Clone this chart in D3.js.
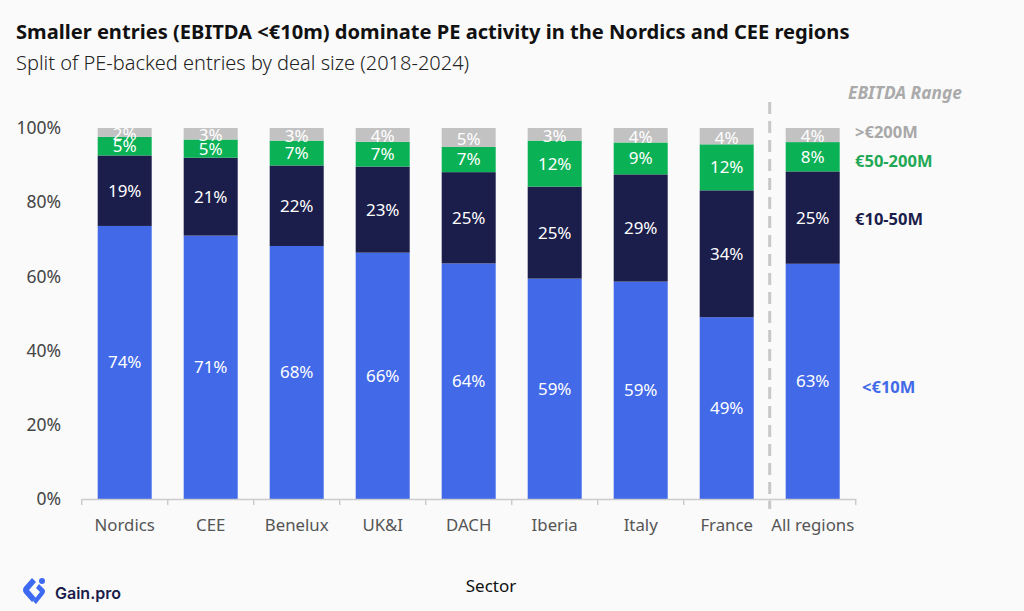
<!DOCTYPE html>
<html><head><meta charset="utf-8">
<script src="https://cdn.jsdelivr.net/npm/d3@7"></script>
<style>body{margin:0;background:#fafafa;}svg{display:block;}</style>
</head><body>
<script>
const categories = ["Nordics","CEE","Benelux","UK&I","DACH","Iberia","Italy","France","All regions"];
const seriesNames = ["<€10M","€10-50M","€50-200M",">€200M"];
const below10 = [73.6,71.0,68.2,66.4,63.5,59.4,58.6,49.0,63.4];
const from10to50 = [19.0,21.0,21.7,23.2,24.6,24.8,28.9,34.2,24.9];
const from50to200 = [5.0,4.9,6.7,6.7,6.8,12.4,8.6,12.4,7.9];
const above200 = [2.4,3.1,3.4,3.7,5.1,3.4,3.9,4.4,3.8];
const yTicks = [0,20,40,60,80,100];
const colors = ["#4169E8","#1B1D4A","#0BB155","#C2C2C2"];
const legendColors = ["#4169E8","#1B1D4A","#1FA855","#A8A8A8"];

const W=1024,H=611;
const svg=d3.select("body").append("svg").attr("width",W).attr("height",H).style("background","#fafafa");
const font="'Source Sans Pro','Noto Sans',sans-serif";
const x=d3.scaleBand().domain(categories).range([81.7,855.7]).paddingInner(0.372).paddingOuter(0.186);
const y=d3.scaleLinear().domain([0,100]).range([499,128]);

const table=categories.map((c,i)=>({cat:c,"<€10M":below10[i],"€10-50M":from10to50[i],"€50-200M":from50to200[i],">€200M":above200[i]}));
const stacked=d3.stack().keys(seriesNames)(table);

// title
svg.append("text").attr("x",16).attr("y",39).attr("font-family",font).attr("font-weight","bold").attr("font-size",20.1).attr("fill","#111")
 .text("Smaller entries (EBITDA <€10m) dominate PE activity in the Nordics and CEE regions");
svg.append("text").attr("x",16).attr("y",70).attr("font-family",font).attr("font-weight",300).attr("font-size",20).attr("fill","#222")
 .text("Split of PE-backed entries by deal size (2018-2024)");

// bars
stacked.forEach((s,si)=>{
  const g=svg.append("g");
  g.selectAll("rect").data(s).join("rect")
   .attr("x",d=>x(d.data.cat)).attr("width",x.bandwidth())
   .attr("y",d=>y(d[1])).attr("height",d=>y(d[0])-y(d[1])).attr("fill",colors[si]);
  g.selectAll("text").data(s).join("text")
   .attr("x",d=>x(d.data.cat)+x.bandwidth()/2).attr("y",d=>(y(d[0])+y(d[1]))/2+(si===3?1.5:0))
   .attr("dy","0.35em").attr("text-anchor","middle").attr("font-family",font).attr("font-size",17).attr("fill","#fff")
   .text(d=>Math.round(d[1]-d[0])+"%");
});

// y axis
const ya=svg.append("g");
ya.selectAll("text").data(yTicks).join("text").attr("x",61).attr("y",d=>y(d)).attr("dy","0.35em").attr("text-anchor","end")
 .attr("font-family",font).attr("font-size",17.5).attr("fill","#444").text(d=>d+"%");

// x axis
const xa=svg.append("g").attr("transform","translate(0,499)")
 .call(d3.axisBottom(x).tickSize(0).tickPadding(20));
xa.select(".domain").attr("stroke","#ccc").attr("stroke-width",1.5);
xa.selectAll("text").attr("font-family",font).attr("font-size",16.8).attr("fill","#555");
const bounds=categories.map(c=>x(c)-x.step()*x.paddingInner()/2).concat([x(categories[categories.length-1])+x.bandwidth()+x.step()*x.paddingInner()/2]);
xa.selectAll("line.b").data(bounds).join("line").attr("class","b").attr("x1",d=>d).attr("x2",d=>d).attr("y1",0).attr("y2",6).attr("stroke","#ccc").attr("stroke-width",1.5);

// dashed separator
const sepX=bounds[categories.length-1];
svg.append("line").attr("x1",sepX).attr("x2",sepX).attr("y1",102).attr("y2",509).attr("stroke","#c8c8c8").attr("stroke-width",3).attr("stroke-dasharray","12,7");

svg.append("text").attr("x",491).attr("y",592).attr("text-anchor","middle").attr("font-family",font).attr("font-size",17).attr("fill","#111").text("Sector");

// legend
svg.append("text").attr("x",848).attr("y",99).attr("font-family",font).attr("font-weight","bold").attr("font-style","italic").attr("font-size",17.3).attr("fill","#AAA").text("EBITDA Range");
const last=categories.length-1;
const legOff=[[862,6],[855,2],[855,4],[855,-3]];
stacked.forEach((s,si)=>{
  const d=s[last];
  svg.append("text").attr("x",legOff[si][0]).attr("y",(y(d[0])+y(d[1]))/2+legOff[si][1]).attr("dy","0.35em")
   .attr("font-family",font).attr("font-weight","bold").attr("font-size",16.5).attr("fill",legendColors[si]).text(seriesNames[si]);
});

// logo
const lg=svg.append("g").attr("transform","translate(22,577)");
lg.append("path").attr("d","M10 1 L2 10 Q0 13 2 16 L10 25 L14 21 L7 13 L14 5 Z").attr("fill","#3D6AF0");
lg.append("path").attr("d","M17 7 L22 12 Q24 14 22 17 L14 27 L11 24 L18 15 L14 11 Z").attr("fill","#3D6AF0");
lg.append("circle").attr("cx",20).attr("cy",4).attr("r",3).attr("fill","#3D6AF0");
svg.append("text").attr("x",55).attr("y",599).attr("font-family","'Inter','Noto Sans',sans-serif").attr("font-weight","600").attr("font-size",16).attr("fill","#1B1D4A").text("Gain.pro");
</script>
</body></html>
